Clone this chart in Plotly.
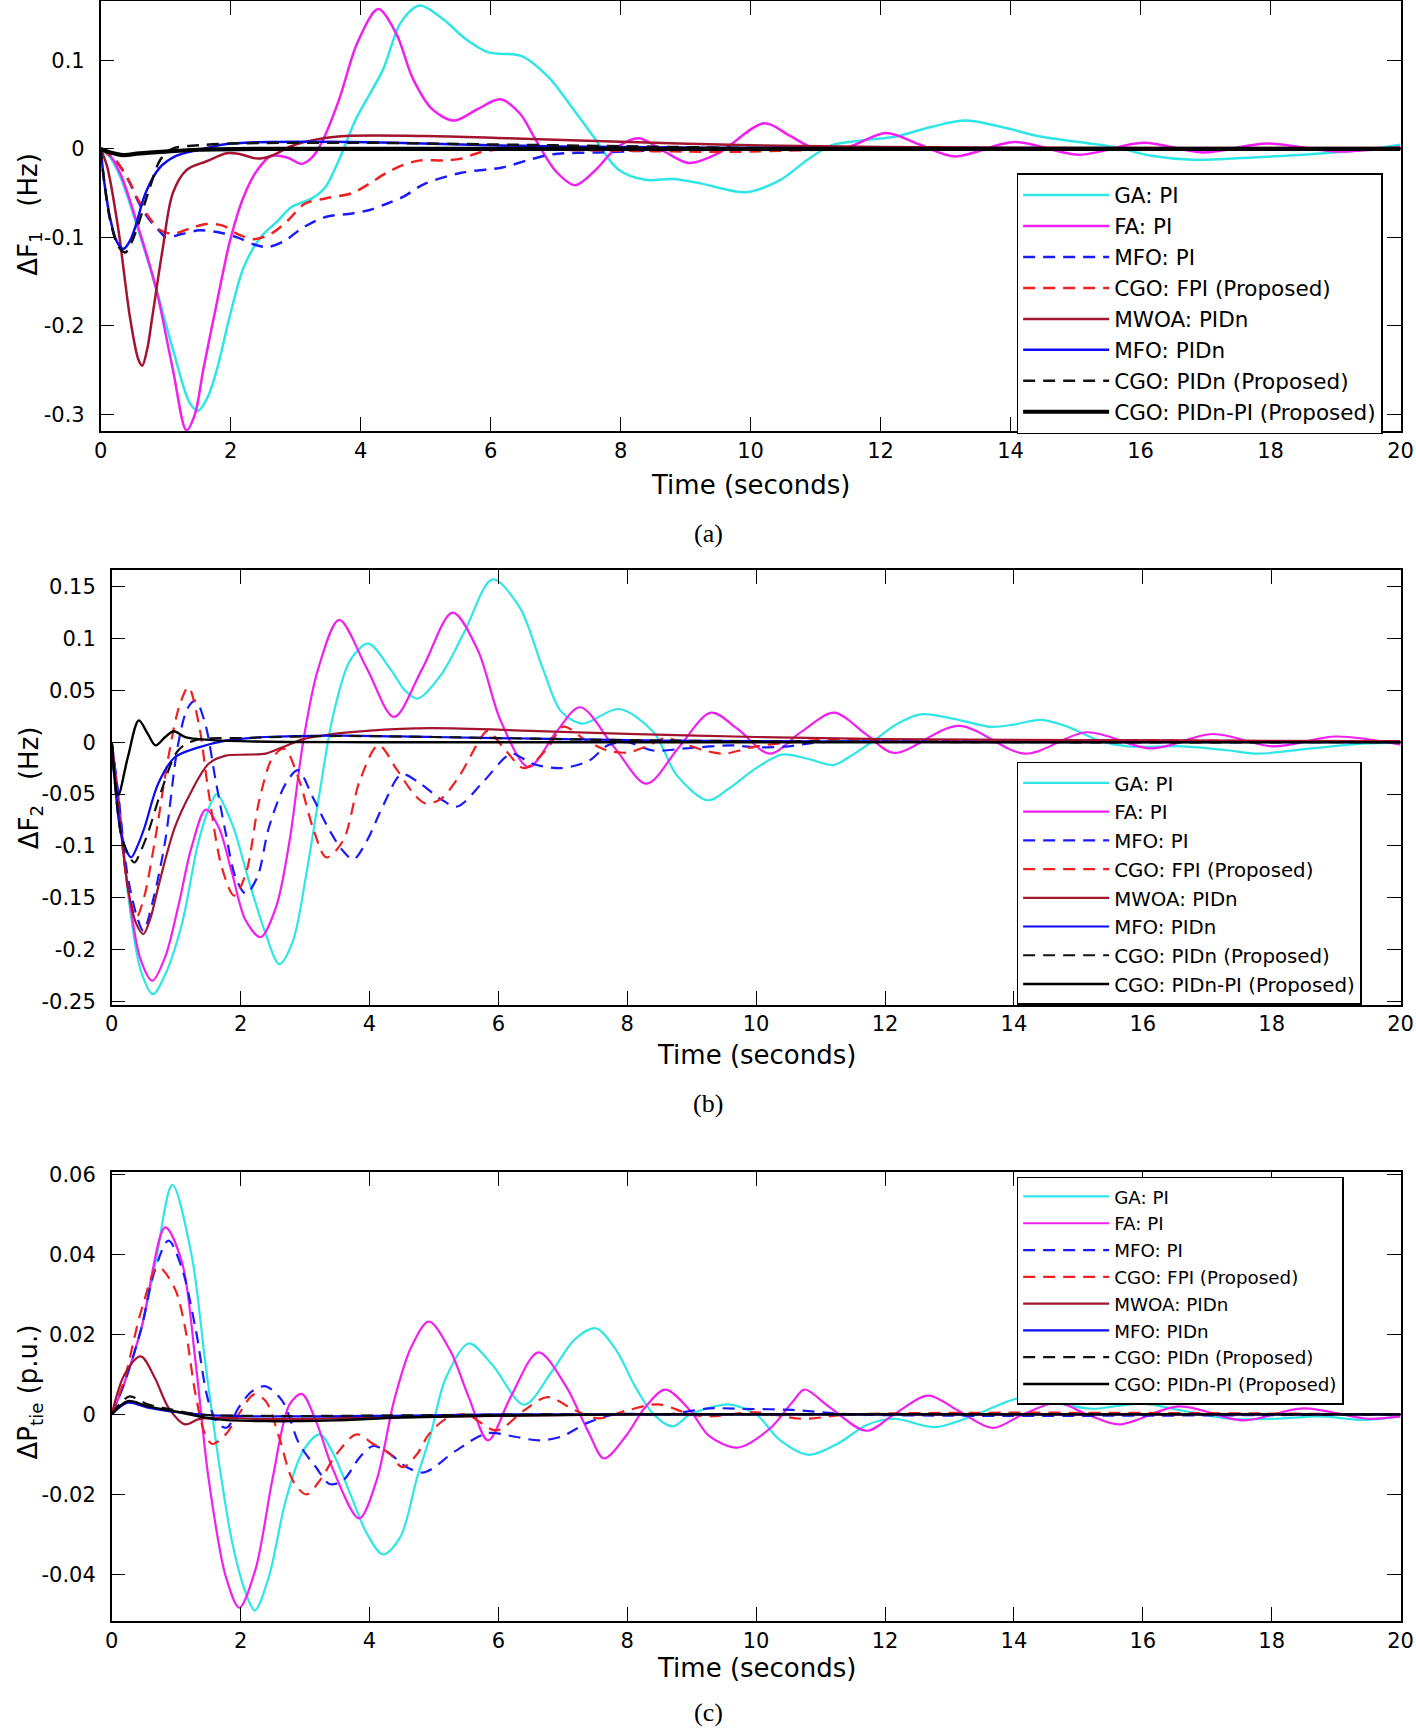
import plotly.graph_objects as go

# ---------------- data: (time s, value) ----------------
NAMES = ["GA: PI", "FA: PI", "MFO: PI", "CGO: FPI (Proposed)", "MWOA: PIDn",
         "MFO: PIDn", "CGO: PIDn (Proposed)", "CGO: PIDn-PI (Proposed)"]

# (a) delta F1 (Hz)
A_GA = [(0, 0), (0.15, -0.01), (0.32, -0.035), (0.58, -0.092), (0.85, -0.157), (1.11, -0.226),
        (1.37, -0.287), (1.5, -0.296), (1.65, -0.28), (1.79, -0.249), (1.99, -0.188), (2.2, -0.134),
        (2.46, -0.1), (2.73, -0.081), (2.93, -0.066), (3.25, -0.056), (3.46, -0.043), (3.67, -0.012),
        (3.93, 0.034), (4.34, 0.089), (4.62, 0.143), (4.91, 0.162), (5.26, 0.147), (5.62, 0.124),
        (5.97, 0.109), (6.47, 0.105), (6.89, 0.081), (7.25, 0.047), (7.6, 0.012), (7.96, -0.023),
        (8.38, -0.035), (8.81, -0.034), (9.23, -0.039), (9.93, -0.049), (10.46, -0.035),
        (10.88, -0.012), (11.24, 0.004), (11.73, 0.0097), (12.22, 0.0136), (12.79, 0.025),
        (13.3, 0.032), (13.85, 0.025), (14.48, 0.0136), (15.05, 0.0078), (15.6, 0.002),
        (16.17, -0.0078), (16.8, -0.0124), (17.72, -0.0097), (18.65, -0.0058), (19.43, -0.001),
        (20, 0.0047)]
A_FA = [(0, 0), (0.15, -0.008), (0.32, -0.031), (0.58, -0.089), (0.85, -0.157), (1.11, -0.249),
        (1.32, -0.318), (1.45, -0.3), (1.58, -0.249), (1.79, -0.173), (1.99, -0.104), (2.2, -0.054),
        (2.41, -0.024), (2.62, -0.008), (2.88, -0.01), (3.09, -0.017), (3.25, -0.01), (3.4, 0.007),
        (3.67, 0.056), (3.95, 0.12), (4.27, 0.158), (4.55, 0.13), (4.8, 0.08), (5.1, 0.045),
        (5.44, 0.032), (5.8, 0.045), (6.15, 0.056), (6.45, 0.04), (6.68, 0.012), (7.0, -0.025),
        (7.3, -0.041), (7.6, -0.025), (7.95, 0.002), (8.28, 0.012), (8.65, -0.002), (9.05, -0.016),
        (9.5, -0.005), (10.21, 0.029), (10.6, 0.015), (11.0, 0.0), (11.5, 0.002), (12.08, 0.018),
        (12.6, 0.005), (13.14, -0.0085), (14.06, 0.0078), (15.05, -0.0066), (16.04, 0.007),
        (16.96, -0.004), (17.95, 0.006), (19.0, -0.003), (20, 0.002)]
A_MFO_PI = [(0, 0), (0.22, -0.012), (0.43, -0.036), (0.58, -0.06), (0.74, -0.079), (0.92, -0.094),
            (1.0, -0.1), (1.26, -0.096), (1.52, -0.092), (1.79, -0.094), (2.1, -0.1), (2.36, -0.108),
            (2.57, -0.111), (2.83, -0.104), (3.09, -0.09), (3.46, -0.077), (3.87, -0.073),
            (4.14, -0.069), (4.4, -0.062), (4.66, -0.054), (4.97, -0.04), (5.55, -0.027),
            (6.18, -0.021), (6.61, -0.012), (6.96, -0.006), (7.67, -0.004), (8.4, -0.002),
            (9.5, -0.001), (11, 0), (20, 0)]
A_CGO_FPI = [(0, 0), (0.22, -0.012), (0.43, -0.035), (0.58, -0.058), (0.74, -0.077), (0.92, -0.092),
             (1.11, -0.096), (1.37, -0.09), (1.63, -0.085), (1.89, -0.087), (2.1, -0.096),
             (2.36, -0.102), (2.62, -0.096), (2.88, -0.081), (3.14, -0.062), (3.46, -0.056),
             (3.87, -0.05), (4.14, -0.039), (4.4, -0.027), (4.66, -0.018), (4.92, -0.013),
             (5.3, -0.013), (5.55, -0.011), (5.83, -0.004), (6.26, 0), (7, -0.001), (8, -0.002),
             (9, -0.003), (10, -0.003), (11, -0.001), (12, 0), (20, 0)]
A_MWOA = [(0, 0), (0.1, -0.02), (0.27, -0.09), (0.45, -0.19), (0.58, -0.238), (0.64, -0.245),
          (0.72, -0.225), (0.79, -0.192), (0.95, -0.115), (1.11, -0.05), (1.32, -0.024),
          (1.63, -0.014), (1.94, -0.005), (2.15, -0.006), (2.41, -0.011), (2.62, -0.008),
          (2.93, 0.003), (3.35, 0.011), (3.77, 0.0145), (5.0, 0.0145), (6.25, 0.012), (8, 0.008),
          (10, 0.004), (12, 0.002), (16, 0.001), (20, 0.001)]
A_MFO_PIDN = [(0, 0), (0.06, -0.04), (0.15, -0.08), (0.25, -0.105), (0.35, -0.113), (0.45, -0.104),
              (0.53, -0.089), (0.69, -0.05), (0.9, -0.022), (1.16, -0.008), (1.52, -0.001),
              (1.89, 0.005), (2.41, 0.0076), (3.5, 0.008), (4.5, 0.007), (6, 0.004), (8, 0.002),
              (10, 0.001), (13, 0), (20, 0)]
A_CGO_PIDN = [(0, 0), (0.06, -0.04), (0.15, -0.082), (0.27, -0.11), (0.38, -0.117), (0.48, -0.105),
              (0.58, -0.085), (0.75, -0.045), (0.92, -0.012), (1.1, 0.0), (1.5, 0.004), (2, 0.006),
              (4, 0.007), (6, 0.005), (8, 0.003), (10, 0.001), (13, 0), (20, 0)]
A_CGO_PIDNPI = [(0, 0), (0.15, -0.004), (0.35, -0.007), (0.6, -0.005), (1.0, -0.003), (1.5, -0.001),
                (2.5, 0), (20, 0)]

# (b) delta F2 (Hz)
B_GA = [(0, 0), (0.1, -0.05), (0.25, -0.145), (0.45, -0.22), (0.64, -0.243), (0.83, -0.224),
        (1.09, -0.175), (1.35, -0.095), (1.56, -0.056), (1.63, -0.05), (1.87, -0.079), (2.13, -0.134),
        (2.39, -0.185), (2.6, -0.214), (2.81, -0.192), (3.02, -0.127), (3.23, -0.047), (3.44, 0.027),
        (3.7, 0.079), (3.98, 0.095), (4.32, 0.071), (4.55, 0.05), (4.75, 0.042), (5.11, 0.065),
        (5.47, 0.106), (5.91, 0.157), (6.33, 0.13), (6.69, 0.071), (6.97, 0.03), (7.3, 0.018),
        (7.87, 0.032), (8.41, 0.0096), (8.77, -0.032), (9.25, -0.056), (9.57, -0.045), (10.0, -0.025),
        (10.4, -0.012), (10.8, -0.016), (11.2, -0.022), (11.5, -0.012), (11.85, 0.0027), (12.2, 0.018),
        (12.57, 0.027), (13.14, 0.0216), (13.64, 0.0148), (14.0, 0.017), (14.42, 0.0216),
        (14.84, 0.0148), (15.35, 0.001), (15.77, -0.004), (16.63, -0.004), (17.34, -0.008),
        (17.77, -0.011), (18.62, -0.006), (19.41, -0.0014), (20, -0.0007)]
B_FA = [(0, 0), (0.1, -0.05), (0.25, -0.14), (0.45, -0.21), (0.63, -0.23), (0.83, -0.207),
        (1.03, -0.159), (1.24, -0.101), (1.46, -0.065), (1.66, -0.082), (1.87, -0.127), (2.08, -0.172),
        (2.31, -0.188), (2.55, -0.159), (2.76, -0.095), (2.97, 0.0), (3.2, 0.07), (3.53, 0.118),
        (3.96, 0.071), (4.38, 0.0244), (4.82, 0.071), (5.29, 0.125), (5.68, 0.089), (6.04, 0.02),
        (6.47, -0.024), (6.9, 0.01), (7.27, 0.0337), (7.8, -0.005), (8.3, -0.040), (8.8, -0.005),
        (9.3, 0.0285), (9.71, 0.013), (10.21, -0.011), (10.7, 0.01), (11.21, 0.0285), (11.7, 0.008),
        (12.14, -0.0103), (13.14, 0.0158), (14.17, -0.011), (15.13, 0.0096), (16.13, -0.006),
        (17.09, 0.0079), (18.03, -0.004), (19.0, 0.0055), (20, -0.0024)]
B_MFO_PI = [(0, 0), (0.1, -0.05), (0.25, -0.13), (0.4, -0.17), (0.49, -0.182), (0.65, -0.15),
            (0.83, -0.095), (1.03, -0.002), (1.18, 0.033), (1.3, 0.040), (1.45, 0.018), (1.61, -0.036),
            (1.77, -0.088), (1.92, -0.13), (2.08, -0.146), (2.26, -0.13), (2.44, -0.082), (2.7, -0.04),
            (2.89, -0.027), (3.12, -0.053), (3.38, -0.085), (3.59, -0.105), (3.75, -0.113),
            (3.96, -0.095), (4.22, -0.06), (4.5, -0.031), (4.79, -0.040), (5.11, -0.055),
            (5.36, -0.062), (5.76, -0.0385), (6.11, -0.0144), (6.22, -0.011), (6.54, -0.021),
            (6.97, -0.025), (7.4, -0.018), (7.7, -0.003), (8.0, 0.0), (8.4, -0.008), (8.9, -0.006),
            (9.6, -0.003), (10.0, -0.005), (10.5, -0.004), (11, 0), (20, 0)]
B_CGO_FPI = [(0, 0), (0.1, -0.06), (0.25, -0.14), (0.38, -0.169), (0.5, -0.15), (0.67, -0.095),
             (0.88, -0.014), (1.05, 0.035), (1.19, 0.053), (1.35, 0.018), (1.5, -0.047),
             (1.71, -0.121), (1.9, -0.148), (2.08, -0.127), (2.29, -0.056), (2.5, -0.0145),
             (2.68, -0.0064), (2.91, -0.037), (3.12, -0.082), (3.33, -0.111), (3.59, -0.095),
             (3.85, -0.037), (4.14, -0.003), (4.43, -0.027), (4.69, -0.05), (4.87, -0.059),
             (5.1, -0.055), (5.4, -0.032), (5.69, 0.0), (5.83, 0.011), (6.11, -0.0076), (6.4, -0.025),
             (6.76, -0.006), (7.01, 0.015), (7.33, 0.003), (7.69, -0.008), (8.0, -0.01), (8.3, -0.004),
             (8.6, 0.004), (8.9, -0.002), (9.2, -0.008), (9.5, -0.011), (10, -0.004), (10.57, 0),
             (11.28, 0.003), (12, 0.001), (14, 0.002), (16, 0.002), (18, 0.001), (20, 0.0)]
B_MWOA = [(0, 0), (0.1, -0.06), (0.25, -0.14), (0.38, -0.175), (0.49, -0.185), (0.6, -0.17),
          (0.72, -0.14), (0.98, -0.082), (1.24, -0.047), (1.5, -0.021), (1.77, -0.013), (2.08, -0.012),
          (2.39, -0.011), (2.65, -0.005), (2.97, 0.003), (3.44, 0.008), (3.96, 0.011), (4.95, 0.0135),
          (6.5, 0.011), (8, 0.008), (10, 0.005), (12, 0.003), (15, 0.002), (20, 0.001)]
B_MFO_PIDN = [(0, 0), (0.05, -0.04), (0.15, -0.09), (0.3, -0.111), (0.4, -0.1), (0.51, -0.082),
              (0.72, -0.040), (0.98, -0.0145), (1.35, -0.005), (1.77, 0.0016), (2.39, 0.005),
              (3.44, 0.0064), (5, 0.005), (8, 0.002), (10, 0.001), (14, 0), (20, 0)]
B_CGO_PIDN = [(0, 0), (0.05, -0.04), (0.17, -0.095), (0.35, -0.116), (0.45, -0.105), (0.56, -0.088),
              (0.77, -0.047), (1.03, -0.008), (1.3, 0.002), (2, 0.004), (3.5, 0.006), (5, 0.005),
              (8, 0.002), (10, 0.001), (14, 0), (20, 0)]
B_CGO_PIDNPI = [(0, 0), (0.1, -0.051), (0.25, -0.0145), (0.42, 0.021), (0.56, 0.008), (0.68, -0.003),
                (0.83, 0.005), (0.96, 0.0106), (1.14, 0.005), (1.35, 0.003), (2, 0.001), (4, 0), (20, 0)]

# (c) delta P tie (p.u.)
C_GA = [(0, 0), (0.2, 0.008), (0.46, 0.0215), (0.67, 0.037), (0.94, 0.0573), (1.24, 0.0397),
        (1.45, 0.0132), (1.66, -0.0116), (1.87, -0.032), (2.08, -0.0446), (2.22, -0.049),
        (2.44, -0.0405), (2.7, -0.0215), (2.97, -0.0091), (3.23, -0.005), (3.44, -0.0099),
        (3.7, -0.0198), (3.96, -0.0298), (4.21, -0.035), (4.48, -0.0306), (4.74, -0.0157),
        (4.95, -0.005), (5.18, 0.0089), (5.54, 0.0177), (5.9, 0.0125), (6.4, 0.0024), (6.83, 0.0107),
        (7.19, 0.0188), (7.51, 0.0215), (7.83, 0.016), (8.12, 0.007), (8.41, 0), (8.7, -0.003),
        (8.98, 0), (9.27, 0.0016), (9.57, 0.0025), (10.0, 0), (10.36, -0.0063), (10.82, -0.0101),
        (11.28, -0.0072), (11.71, -0.0027), (12.14, -0.0011), (12.78, -0.0032), (13.42, 0),
        (14.14, 0.0043), (14.71, 0.0027), (15.2, 0.0014), (15.99, 0.0027), (16.63, 0.0009),
        (17.35, -0.0011), (18.06, -0.0011), (18.77, -0.0005), (19.4, -0.0014), (20, -0.0005)]
C_FA = [(0, 0), (0.2, 0.008), (0.46, 0.0215), (0.83, 0.0467), (1.09, 0.038), (1.3, 0.0132),
        (1.5, -0.0157), (1.77, -0.0405), (1.98, -0.0483), (2.23, -0.0388), (2.5, -0.0157),
        (2.76, 0.0025), (2.95, 0.0051), (3.17, -0.0017), (3.44, -0.014), (3.84, -0.026),
        (4.11, -0.0165), (4.38, 0.0033), (4.64, 0.0165), (4.92, 0.0232), (5.25, 0.016), (5.54, 0.0043),
        (5.84, -0.0065), (6.19, 0.0043), (6.62, 0.0155), (7.05, 0.007), (7.4, -0.0045), (7.64, -0.011),
        (7.98, -0.0054), (8.27, 0.0016), (8.59, 0.0062), (8.98, 0.0009), (9.27, -0.0054),
        (9.71, -0.0083), (10.21, -0.0036), (10.57, 0.0032), (10.75, 0.0062), (11.14, 0.0018),
        (11.71, -0.0041), (12.14, 0), (12.67, 0.0047), (13.14, 0.0009), (13.67, -0.0034), (14.14, 0),
        (14.67, 0.0029), (15.14, 0), (15.63, -0.0025), (16.56, 0.002), (17.56, -0.0015),
        (18.49, 0.0015), (19.49, -0.0011), (20, -0.0005)]
C_MFO_PI = [(0, 0), (0.2, 0.008), (0.46, 0.0215), (0.65, 0.035), (0.88, 0.0434), (1.09, 0.0364),
            (1.3, 0.0215), (1.5, 0.0033), (1.66, -0.0025), (1.79, -0.0033), (1.97, 0.0017),
            (2.18, 0.0058), (2.39, 0.007), (2.65, 0.0033), (2.91, -0.0074), (3.17, -0.0132),
            (3.38, -0.0174), (3.59, -0.0165), (3.85, -0.0107), (4.06, -0.0079), (4.32, -0.0099),
            (4.58, -0.0132), (4.85, -0.0145), (5.33, -0.0092), (5.83, -0.0047), (6.26, -0.0056),
            (6.62, -0.0065), (6.97, -0.0056), (7.4, -0.002), (7.83, 0), (8.62, 0), (9.27, 0.0015),
            (9.71, 0.0014), (10.57, 0.0011), (11.5, 0), (20, 0)]
C_CGO_FPI = [(0, 0), (0.2, 0.009), (0.46, 0.026), (0.72, 0.0368), (0.98, 0.0314), (1.14, 0.0215),
             (1.3, 0.005), (1.45, -0.005), (1.56, -0.0074), (1.77, -0.005), (1.97, 0), (2.21, 0.005),
             (2.39, 0.0033), (2.6, -0.0058), (2.81, -0.0165), (3.02, -0.02), (3.23, -0.0165),
             (3.49, -0.0099), (3.8, -0.005), (4.06, -0.0074), (4.32, -0.0099), (4.51, -0.0132),
             (4.74, -0.0099), (4.92, -0.005), (5.2, -0.001), (5.5, 0), (5.97, -0.004), (6.4, 0.001),
             (6.76, 0.0043), (7.19, 0.001), (7.55, -0.001), (8.0, 0.001), (8.48, 0.0025), (8.98, 0),
             (9.27, -0.0005), (10, 0.0005), (10.71, -0.0011), (11.5, 0), (20, 0)]
C_MWOA = [(0, 0), (0.2, 0.01), (0.45, 0.0145), (0.67, 0.0091), (0.88, 0.0017), (1.14, -0.0025),
          (1.35, -0.0012), (1.66, -0.0008), (2.39, -0.0012), (4, -0.0008), (6, -0.0004), (8, 0), (20, 0)]
C_MFO_PIDN = [(0, 0), (0.25, 0.0029), (0.56, 0.0017), (1.09, 0.0004), (1.87, -0.0004), (4, -0.0004),
              (6, 0), (20, 0)]
C_CGO_PIDN = [(0, 0), (0.15, 0.003), (0.28, 0.0045), (0.56, 0.0025), (0.93, 0.0012), (1.35, 0),
              (2.39, -0.0004), (5, -0.0002), (7, 0), (20, 0)]
C_CGO_PIDNPI = [(0, 0), (0.25, 0.0033), (0.56, 0.002), (1.09, 0.0004), (1.6, -0.0012), (2.39, -0.0017),
                (3.44, -0.0015), (4.48, -0.0008), (6, -0.0003), (8, 0), (20, 0)]

PANELS = [
    [A_GA, A_FA, A_MFO_PI, A_CGO_FPI, A_MWOA, A_MFO_PIDN, A_CGO_PIDN, A_CGO_PIDNPI],
    [B_GA, B_FA, B_MFO_PI, B_CGO_FPI, B_MWOA, B_MFO_PIDN, B_CGO_PIDN, B_CGO_PIDNPI],
    [C_GA, C_FA, C_MFO_PI, C_CGO_FPI, C_MWOA, C_MFO_PIDN, C_CGO_PIDN, C_CGO_PIDNPI],
]

# ---------------- styling ----------------
COLORS = ["#2EE6E6", "#F020F0", "#1A1AFF", "#F02020", "#A2142F", "#0A0AF5", "#111111", "#000000"]
DASHES = ["solid", "solid", "12px,8px", "12px,8px", "solid", "solid", "12px,8px", "solid"]
WIDTHS = [[2.5, 2.5, 2.5, 2.5, 2.5, 2.5, 2.5, 4.2],
          [2.2, 2.2, 2.2, 2.2, 2.2, 2.2, 2.2, 2.4],
          [2.2, 2.2, 2.2, 2.2, 2.2, 2.2, 2.2, 2.4]]

W, H = 1416, 1729
RW, RH = 1280.0, 1568.0  # reference measured at this scale


def px(x):
    return x / RW


def py(y):
    return 1 - y / RH


X_DOM = [[px(91), px(1266)], [px(101), px(1266)], [px(101), px(1266)]]
Y_DOM = [[py(391), py(1)], [py(911), py(517)], [py(1470), py(1063)]]
Y_RANGE = [[-0.319, 0.167], [-0.253, 0.166], [-0.0516, 0.0605]]
Y_TICKS = [[-0.3, -0.2, -0.1, 0, 0.1],
           [-0.25, -0.2, -0.15, -0.1, -0.05, 0, 0.05, 0.1, 0.15],
           [-0.04, -0.02, 0, 0.02, 0.04, 0.06]]
Y_TEXT = [["-0.3", "-0.2", "-0.1", "0", "0.1"],
          ["-0.25", "-0.2", "-0.15", "-0.1", "-0.05", "0", "0.05", "0.1", "0.15"],
          ["-0.04", "-0.02", "0", "0.02", "0.04", "0.06"]]
X_TICKS = list(range(0, 21, 2))
LEG_POS = [(919, 157), (919, 691), (919, 1067)]
LEG_FONT = [21.5, 19.8, 18.3]

FONT = "DejaVu Sans, Verdana, sans-serif"

fig = go.Figure()
for p, series in enumerate(PANELS):
    sfx = "" if p == 0 else str(p + 1)
    for i, pts in enumerate(series):
        fig.add_trace(go.Scatter(
            x=[t for t, _ in pts], y=[v for _, v in pts], mode="lines", name=NAMES[i],
            line=dict(color=COLORS[i], width=WIDTHS[p][i], dash=DASHES[i], shape="spline", smoothing=0.9),
            xaxis="x" + sfx, yaxis="y" + sfx, legend="legend" + sfx,
        ))

layout = dict(width=W, height=H, margin=dict(l=0, r=0, t=0, b=0, autoexpand=False),
              paper_bgcolor="white", plot_bgcolor="white",
              font=dict(family=FONT, size=20, color="black"))
for p in range(3):
    sfx = "" if p == 0 else str(p + 1)
    common = dict(showline=True, linecolor="black", linewidth=1.5, mirror="ticks", ticks="inside",
                  ticklen=14, tickwidth=1.3, tickcolor="black", showgrid=False, zeroline=False,
                  automargin=False, tickfont=dict(family=FONT, size=21, color="black"))
    layout["xaxis" + sfx] = dict(common, domain=X_DOM[p], anchor="y" + sfx, range=[0, 20],
                                 tickvals=X_TICKS, ticktext=[str(v) for v in X_TICKS])
    layout["yaxis" + sfx] = dict(common, domain=Y_DOM[p], anchor="x" + sfx, range=Y_RANGE[p],
                                 tickvals=Y_TICKS[p], ticktext=Y_TEXT[p], ticklabelstandoff=10)
    lx, ly = LEG_POS[p]
    layout["legend" + sfx] = dict(x=px(lx), y=py(ly), xanchor="left", yanchor="top",
                                  bgcolor="white", bordercolor="black", borderwidth=1.5,
                                  font=dict(family=FONT, size=LEG_FONT[p], color="black"),
                                  itemwidth=86, traceorder="normal")
fig.update_layout(**layout)

ann = []
Y_TITLES = ["ΔF<sub>1</sub>\u00a0\u00a0\u00a0(Hz)", "ΔF<sub>2</sub>\u00a0\u00a0\u00a0(Hz)",
            "ΔP<sub>tie</sub>\u00a0(p.u.)"]
Y_TITLE_Y = [194, 714, 1262]
X_TITLE = [(678, 440), (684, 957), (684, 1513)]
CAPTIONS = [("(a)", 484), ("(b)", 1001), ("(c)", 1553)]
for p in range(3):
    ann.append(dict(text=Y_TITLES[p], x=px(27), y=py(Y_TITLE_Y[p]), xref="paper", yref="paper",
                    xanchor="center", yanchor="middle", textangle=-90, showarrow=False,
                    font=dict(family=FONT, size=26)))
    ann.append(dict(text="Time (seconds)", x=px(X_TITLE[p][0]), y=py(X_TITLE[p][1]), xref="paper",
                    yref="paper", xanchor="center", yanchor="middle", showarrow=False,
                    font=dict(family=FONT, size=26)))
    ann.append(dict(text=CAPTIONS[p][0], x=0.5, y=py(CAPTIONS[p][1]), xref="paper", yref="paper",
                    xanchor="center", yanchor="middle", showarrow=False,
                    font=dict(family="Liberation Serif, Times New Roman, serif", size=26)))
fig.update_layout(annotations=ann)

# the page body keeps no margin so the figure fills the window exactly
fig.write_html("out.html", config={"displayModeBar": False},
               post_script="document.body.style.margin='0';")
